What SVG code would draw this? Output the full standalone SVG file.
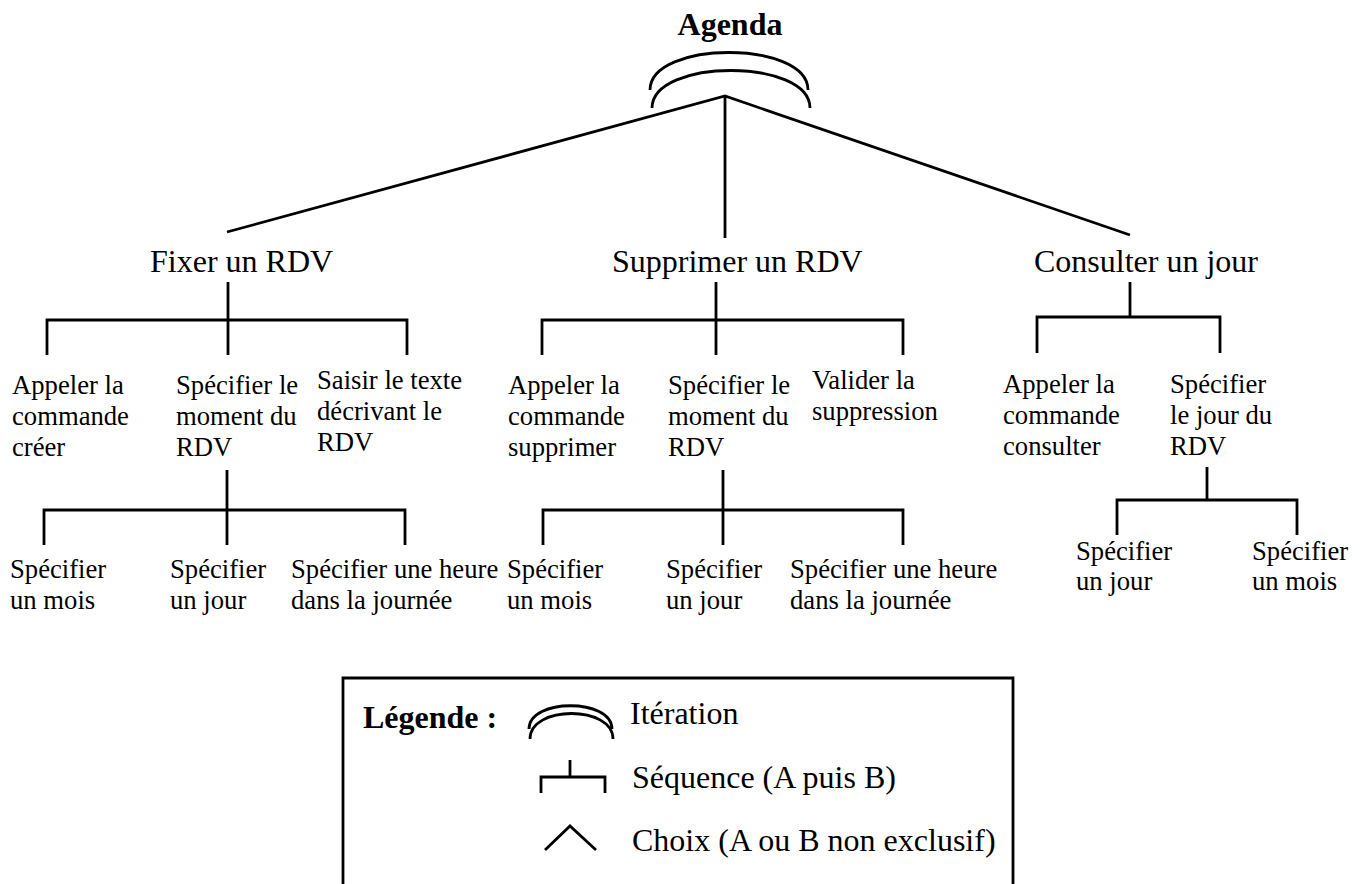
<svg xmlns="http://www.w3.org/2000/svg" width="1364" height="884" viewBox="0 0 1364 884">
<style>
.ln{fill:none;stroke:#000;stroke-width:2.8;stroke-linecap:butt;stroke-linejoin:miter}
.t1{font-family:"Liberation Serif","Times New Roman",serif;font-size:32px;fill:#000}
.t2{font-family:"Liberation Serif","Times New Roman",serif;font-size:26.67px;fill:#000}
.tb{font-family:"Liberation Serif","Times New Roman",serif;font-size:32px;font-weight:bold;fill:#000}
</style>
<rect width="1364" height="884" fill="#fff"/>
<g id="connectors">
  <path class="ln" d="M650,90 C650,40 808,40 808,90"/>
  <path class="ln" d="M652,108 C652,58 810,58 810,108"/>
  <path class="ln" d="M227,232 L725,96 L1130,235"/>
  <path class="ln" d="M725,96 L725,238"/>
  <path class="ln" d="M228,282 V320 M47,355 V320 H407 V355 M228,320 V355"/>
  <path class="ln" d="M227,470 V510 M44,545 V510 H405 V545 M227,510 V545"/>
  <path class="ln" d="M716,282 V320 M542,355 V320 H903 V355 M716,320 V355"/>
  <path class="ln" d="M723,470 V510 M543,545 V510 H903 V545 M723,510 V545"/>
  <path class="ln" d="M1130,282 V317 M1037,353 V317 H1220 V353"/>
  <path class="ln" d="M1207,467 V500 M1117,535 V500 H1297 V535"/>
</g>
<g id="agenda"><text class="tb" x="730" y="35" text-anchor="middle">Agenda</text></g>
<g id="fixer"><text class="t1" x="150" y="272">Fixer un RDV</text></g>
<g id="supprimer"><text class="t1" x="612" y="272">Supprimer un RDV</text></g>
<g id="consulter"><text class="t1" x="1146" y="272" text-anchor="middle">Consulter un jour</text></g>
<g id="f-appeler"><text class="t2" x="12" y="394">Appeler la<tspan x="12" dy="31">commande</tspan><tspan x="12" dy="31">créer</tspan></text></g>
<g id="f-specifier"><text class="t2" x="176" y="394">Spécifier le<tspan x="176" dy="31">moment du</tspan><tspan x="176" dy="31">RDV</tspan></text></g>
<g id="f-saisir"><text class="t2" x="317" y="389">Saisir le texte<tspan x="317" dy="31">décrivant le</tspan><tspan x="317" dy="31">RDV</tspan></text></g>
<g id="f-mois"><text class="t2" x="10" y="578">Spécifier<tspan x="10" dy="31">un mois</tspan></text></g>
<g id="f-jour"><text class="t2" x="170" y="578">Spécifier<tspan x="170" dy="31">un jour</tspan></text></g>
<g id="f-heure"><text class="t2" x="291" y="578">Spécifier une heure<tspan x="291" dy="31">dans la journée</tspan></text></g>
<g id="s-appeler"><text class="t2" x="508" y="394">Appeler la<tspan x="508" dy="31">commande</tspan><tspan x="508" dy="31">supprimer</tspan></text></g>
<g id="s-specifier"><text class="t2" x="668" y="394">Spécifier le<tspan x="668" dy="31">moment du</tspan><tspan x="668" dy="31">RDV</tspan></text></g>
<g id="s-valider"><text class="t2" x="812" y="389">Valider la<tspan x="812" dy="31">suppression</tspan></text></g>
<g id="s-mois"><text class="t2" x="507" y="578">Spécifier<tspan x="507" dy="31">un mois</tspan></text></g>
<g id="s-jour"><text class="t2" x="666" y="578">Spécifier<tspan x="666" dy="31">un jour</tspan></text></g>
<g id="s-heure"><text class="t2" x="790" y="578">Spécifier une heure<tspan x="790" dy="31">dans la journée</tspan></text></g>
<g id="c-appeler"><text class="t2" x="1003" y="393">Appeler la<tspan x="1003" dy="31">commande</tspan><tspan x="1003" dy="31">consulter</tspan></text></g>
<g id="c-specifier"><text class="t2" x="1170" y="393">Spécifier<tspan x="1170" dy="31">le jour du</tspan><tspan x="1170" dy="31">RDV</tspan></text></g>
<g id="c-jour"><text class="t2" x="1076" y="560">Spécifier<tspan x="1076" dy="30">un jour</tspan></text></g>
<g id="c-mois"><text class="t2" x="1252" y="560">Spécifier<tspan x="1252" dy="30">un mois</tspan></text></g>
<g id="legend">
  <path class="ln" d="M343,890 V678 H1013 V890"/>
  <text class="tb" x="363" y="728">Légende :</text>
  <path class="ln" d="M529,729 C529,698 612,698 612,729"/>
  <path class="ln" d="M530,739 C530,705 613,705 613,739"/>
  <text class="t1" x="630" y="724">Itération</text>
  <path class="ln" d="M570,760 V777 M541,793 V777 H605 V793"/>
  <text class="t1" x="632" y="788">Séquence (A puis B)</text>
  <path class="ln" d="M545,850 L570,826 L596,850"/>
  <text class="t1" x="632" y="851">Choix (A ou B non exclusif)</text>
</g>
</svg>
